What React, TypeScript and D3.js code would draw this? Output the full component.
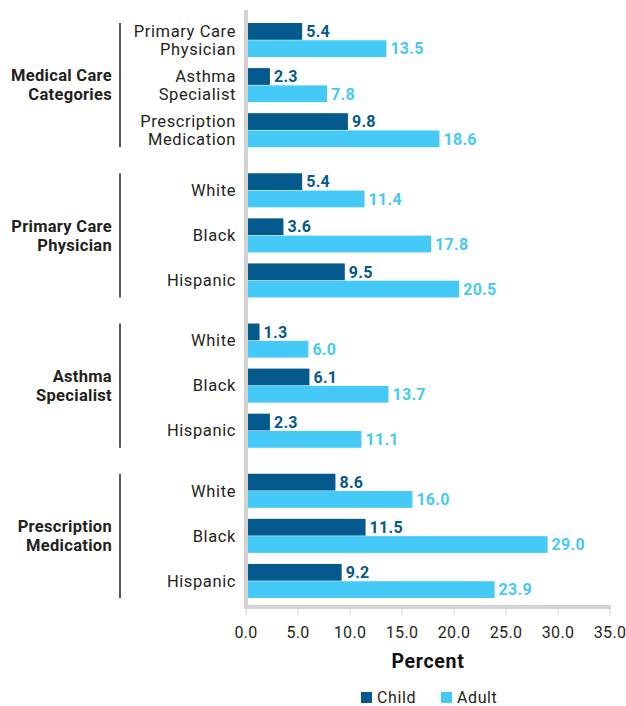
import React from 'react';
import * as d3 from 'd3';

// groups, rows and values
const groupLabels = [
  ['Medical Care', 'Categories'],
  ['Primary Care', 'Physician'],
  ['Asthma', 'Specialist'],
  ['Prescription', 'Medication'],
];
const rowLabels = [
  [['Primary Care', 'Physician'], ['Asthma', 'Specialist'], ['Prescription', 'Medication']],
  [['White'], ['Black'], ['Hispanic']],
  [['White'], ['Black'], ['Hispanic']],
  [['White'], ['Black'], ['Hispanic']],
];
const childValues = [
  [5.4, 2.3, 9.8],
  [5.4, 3.6, 9.5],
  [1.3, 6.1, 2.3],
  [8.6, 11.5, 9.2],
];
const adultValues = [
  [13.5, 7.8, 18.6],
  [11.4, 17.8, 20.5],
  [6.0, 13.7, 11.1],
  [16.0, 29.0, 23.9],
];
const xTicks = [0, 5, 10, 15, 20, 25, 30, 35];
const seriesNames = ['Child', 'Adult'];

const CHILD = '#045a8d';
const ADULT = '#45c9f6';
const AXIS = '#d3d3d3';
const INK = '#231f20';
const FONT = 'Roboto, "DejaVu Sans", sans-serif';

export default function App() {
  const width = 626;
  const height = 706;

  const x = d3.scaleLinear().domain([0, 35]).range([246, 610]);
  const yGroup = d3.scaleBand<number>()
    .domain(d3.range(groupLabels.length))
    .range([10, 611])
    .paddingInner(0.1)
    .paddingOuter(0.05);
  const yRow = d3.scaleBand<number>()
    .domain([0, 1, 2])
    .range([0, yGroup.bandwidth()])
    .paddingInner(11 / 45)
    .paddingOuter(11 / 90);
  const ySeries = d3.scaleBand<number>()
    .domain([0, 1])
    .range([0, yRow.bandwidth()])
    .paddingInner(0.03);

  const lineH = 18.5;

  return (
    <svg width={width} height={height} style={{ position: 'absolute', left: 0, top: 0, background: '#fff' }}
      fontFamily={FONT}>
      {groupLabels.map((gl, gi) => {
        const g0 = yGroup(gi)!;
        const top = g0 + yRow(0)!;
        const bottom = g0 + yRow(2)! + yRow.bandwidth();
        const mid = (top + bottom) / 2;
        return (
          <g key={gi}>
            <line x1={120} x2={120} y1={top} y2={bottom} stroke={INK} strokeWidth={1.5} />
            {gl.map((t, li) => (
              <text key={li} x={112} y={mid + (li - (gl.length - 1) / 2) * 19} dy="0.35em"
                textAnchor="end" fontSize={16.5} fontWeight={700} letterSpacing={0.3} fill={INK}>{t}</text>
            ))}
            {rowLabels[gi].map((lines, ri) => {
              const r0 = g0 + yRow(ri)!;
              const rmid = r0 + yRow.bandwidth() / 2;
              const vals = [childValues[gi][ri], adultValues[gi][ri]];
              return (
                <g key={ri}>
                  {lines.map((t, li) => (
                    <text key={li} x={236} y={rmid + (li - (lines.length - 1) / 2) * lineH} dy="0.35em"
                      textAnchor="end" fontSize={16.5} letterSpacing={0.6} fill={INK}>{t}</text>
                  ))}
                  {vals.map((v, si) => {
                    const by = r0 + ySeries(si)!;
                    const col = si === 0 ? CHILD : ADULT;
                    return (
                      <g key={si}>
                        <rect x={x(0)} y={by} width={x(v) - x(0)} height={ySeries.bandwidth()} fill={col} />
                        <text x={x(v) + 4} y={by + ySeries.bandwidth() / 2} dy="0.36em"
                          fontSize={16} fontWeight={700} letterSpacing={0.3} fill={col}>{v.toFixed(1)}</text>
                      </g>
                    );
                  })}
                </g>
              );
            })}
          </g>
        );
      })}

      {/* axes */}
      <line x1={246} x2={246} y1={10} y2={609} stroke={AXIS} strokeWidth={4} />
      <line x1={244} x2={611} y1={607} y2={607} stroke={AXIS} strokeWidth={4} />
      {xTicks.map((t) => (
        <g key={t} transform={`translate(${x(t)},0)`}>
          <line y1={609} y2={615} stroke={AXIS} strokeWidth={1} />
          <text y={632} dy="0.35em" textAnchor="middle" fontSize={16} letterSpacing={0.3} fill={INK}>{t.toFixed(1)}</text>
        </g>
      ))}
      <text x={(x(0) + x(35)) / 2} y={661} dy="0.35em" textAnchor="middle" fontSize={19.5}
        fontWeight={700} letterSpacing={0.7} fill="#111">Percent</text>

      {/* legend */}
      {seriesNames.map((s, i) => (
        <g key={s} transform={`translate(${361 + i * 80},692)`}>
          <rect width={11} height={11} fill={i === 0 ? CHILD : ADULT} />
          <text x={16} y={5.5} dy="0.36em" fontSize={16} letterSpacing={0.6} fill={INK}>{s}</text>
        </g>
      ))}
    </svg>
  );
}
